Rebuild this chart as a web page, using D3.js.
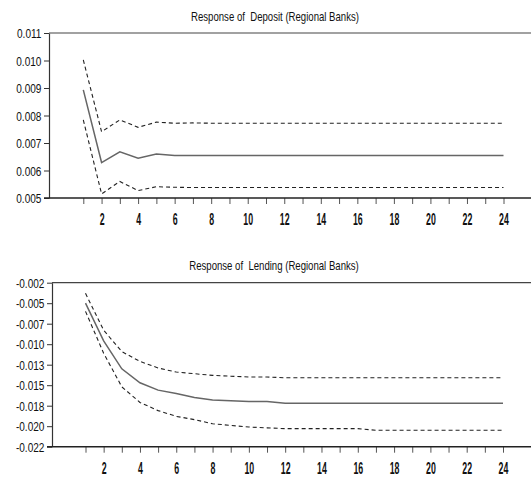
<!DOCTYPE html>
<html>
<head>
<meta charset="utf-8">
<script src="https://cdn.jsdelivr.net/npm/d3@7"></script>
<style>
  html, body { margin: 0; padding: 0; background: #fff; }
  svg { display: block; }
  .lbl { font-family: 'Liberation Sans', Arial, sans-serif; fill: #111; white-space: pre; }
</style>
</head>
<body>
<svg id="chart" width="531" height="478"></svg>
<script>
// Forecast horizon (periods)
const periods = [1, 2, 3, 4, 5, 6, 7, 8, 9, 10, 11, 12, 13, 14, 15, 16, 17, 18, 19, 20, 21, 22, 23, 24];

// Response of Deposit (Regional Banks): point estimate and ±2 S.E. bands
const depositResponse = [0.00893, 0.00629, 0.00668, 0.00645, 0.00660, 0.00655, 0.00655, 0.00655, 0.00655, 0.00655, 0.00655, 0.00655,
                         0.00655, 0.00655, 0.00655, 0.00655, 0.00655, 0.00655, 0.00655, 0.00655, 0.00655, 0.00655, 0.00655, 0.00655];
const depositUpper = [0.01002, 0.00741, 0.00784, 0.00757, 0.00776, 0.00772, 0.00773, 0.00772, 0.00772, 0.00772, 0.00772, 0.00772,
                      0.00772, 0.00772, 0.00772, 0.00772, 0.00772, 0.00772, 0.00772, 0.00772, 0.00772, 0.00772, 0.00772, 0.00772];
const depositLower = [0.00784, 0.00515, 0.00560, 0.00527, 0.00541, 0.00539, 0.00538, 0.00538, 0.00538, 0.00538, 0.00538, 0.00538,
                      0.00538, 0.00538, 0.00538, 0.00538, 0.00538, 0.00538, 0.00538, 0.00538, 0.00538, 0.00538, 0.00538, 0.00538];

// Response of Lending (Regional Banks): point estimate and ±2 S.E. bands
const lendingResponse = [-0.0050, -0.0096, -0.0130, -0.0147, -0.0156, -0.0160, -0.0165, -0.0168, -0.0169, -0.0170, -0.0170, -0.0172,
                         -0.0172, -0.0172, -0.0172, -0.0172, -0.0172, -0.0172, -0.0172, -0.0172, -0.0172, -0.0172, -0.0172, -0.0172];
const lendingUpper = [-0.0038, -0.0083, -0.0109, -0.0121, -0.0129, -0.0134, -0.0136, -0.0138, -0.0139, -0.0140, -0.0140, -0.0141,
                      -0.0141, -0.0141, -0.0141, -0.0141, -0.0141, -0.0141, -0.0141, -0.0141, -0.0141, -0.0141, -0.0141, -0.0141];
const lendingLower = [-0.0060, -0.0111, -0.0152, -0.0171, -0.0181, -0.0188, -0.0192, -0.0197, -0.0199, -0.0201, -0.0202, -0.0203,
                      -0.0203, -0.0203, -0.0203, -0.0203, -0.0205, -0.0205, -0.0205, -0.0205, -0.0205, -0.0205, -0.0205, -0.0205];

// Axis ticks and labels
const depositTicks = [0.005, 0.006, 0.007, 0.008, 0.009, 0.010, 0.011];
const depositTickLabels = ["0.005", "0.006", "0.007", "0.008", "0.009", "0.010", "0.011"];
const lendingTicks = [-0.0225, -0.0200, -0.0175, -0.0150, -0.0125, -0.0100, -0.0075, -0.0050, -0.0025];
const lendingTickLabels = ["-0.022", "-0.020", "-0.018", "-0.015", "-0.013", "-0.010", "-0.007", "-0.005", "-0.002"];

const titles = ["Response of  Deposit (Regional Banks)", "Response of  Lending (Regional Banks)"];

const svg = d3.select("#chart");

const panels = [
  { title: titles[0], response: depositResponse, upper: depositUpper, lower: depositLower,
    ticks: depositTicks, tickLabels: depositTickLabels,
    left: 49, top: 33, bottom: 198, x1: 83.3, x24: 503.5, titleY: 21, titleX: 275 },
  { title: titles[1], response: lendingResponse, upper: lendingUpper, lower: lendingLower,
    ticks: lendingTicks, tickLabels: lendingTickLabels,
    left: 52, top: 282.7, bottom: 446.7, x1: 85.5, x24: 503, titleY: 270, titleX: 274 }
];

panels.forEach(p => {
  const g = svg.append("g");
  const x = d3.scaleLinear().domain([periods[0], periods[periods.length - 1]]).range([p.x1, p.x24]);
  const y = d3.scaleLinear().domain([p.ticks[0], p.ticks[p.ticks.length - 1]]).range([p.bottom, p.top]);

  // frame: top border and baseline stretch to the right edge
  g.append("line").attr("x1", p.left).attr("x2", 531).attr("y1", p.top).attr("y2", p.top)
    .attr("stroke", "#444").attr("stroke-width", 1.2);

  // y axis, condensed labels
  const yAxis = d3.axisLeft(y).tickValues(p.ticks).tickFormat((d, i) => p.tickLabels[i])
    .tickSize(5).tickSizeOuter(0);
  const ya = g.append("g").attr("transform", `translate(${p.left},0)`).call(yAxis);
  ya.select(".domain").attr("stroke", "#333").attr("stroke-width", 1.2);
  ya.selectAll(".tick line").attr("stroke", "#333").attr("stroke-width", 1);
  ya.selectAll(".tick text").attr("class", "lbl").attr("font-size", 12)
    .attr("x", -9).attr("dy", "0.36em")
    .attr("transform", "scale(0.84,1.05)");

  // x axis, tall condensed labels on even periods
  const xAxis = d3.axisBottom(x).tickValues(periods).tickFormat(d => d % 2 === 0 ? d : "")
    .tickSize(6).tickSizeOuter(0);
  const xa = g.append("g").attr("transform", `translate(0,${p.bottom})`).call(xAxis);
  xa.select(".domain").remove();
  xa.selectAll(".tick line").attr("stroke", "#555").attr("stroke-width", 1);
  xa.selectAll(".tick text").attr("class", "lbl")
    .attr("font-size", 11).attr("font-weight", "bold")
    .attr("y", 0).attr("dy", null)
    .attr("transform", "translate(0,27) scale(0.8,1.5)");
  g.append("line").attr("x1", p.left - 5).attr("x2", 531).attr("y1", p.bottom).attr("y2", p.bottom)
    .attr("stroke", "#222").attr("stroke-width", 1.4);

  // title, condensed
  g.append("text").attr("class", "lbl").attr("text-anchor", "middle").attr("font-size", 12)
    .attr("transform", `translate(${p.titleX},${p.titleY}) scale(0.8,1.05)`)
    .text(p.title);

  const line = d3.line().x((d, i) => x(periods[i])).y(d => y(d));

  g.append("path").datum(p.upper).attr("d", line).attr("fill", "none")
    .attr("stroke", "#222").attr("stroke-width", 1.1).attr("stroke-dasharray", "4,3");
  g.append("path").datum(p.lower).attr("d", line).attr("fill", "none")
    .attr("stroke", "#222").attr("stroke-width", 1.1).attr("stroke-dasharray", "4,3");
  g.append("path").datum(p.response).attr("d", line).attr("fill", "none")
    .attr("stroke", "#666").attr("stroke-width", 1.5);
});
</script>
</body>
</html>
